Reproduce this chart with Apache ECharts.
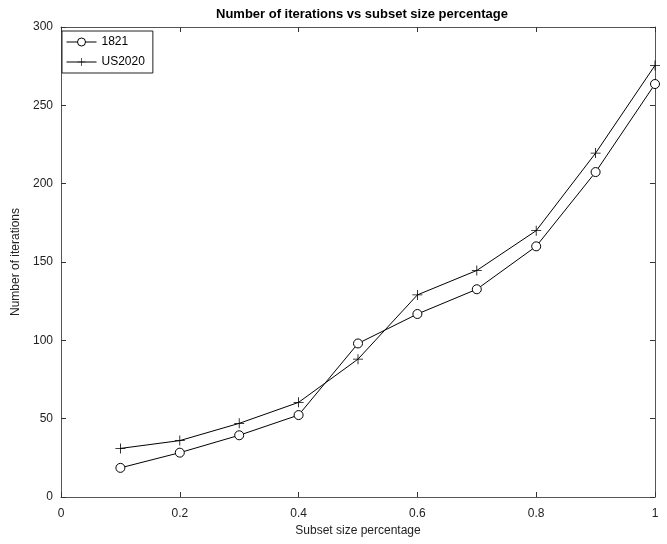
<!DOCTYPE html>
<html>
<head>
    <meta charset="utf-8">
    <title>Number of iterations vs subset size percentage</title>
    <script src="https://cdn.jsdelivr.net/npm/echarts@6/dist/echarts.min.js"></script>
    <style>
        body { margin: 0; padding: 0; background: #fff; }
        #chart { width: 667px; height: 544px; }
    </style>
</head>
<body>
    <div id="chart"></div>
    <script>
        // data
        const subsetSize = [0.1, 0.2, 0.3, 0.4, 0.5, 0.6, 0.7, 0.8, 0.9, 1.0];
        const iters1821 = [18.6, 28.3, 39.4, 52.3, 98, 116.8, 132.6, 160, 207.4, 263.6];
        const itersUS2020 = [31, 36, 47, 60.4, 88, 129, 144.6, 170, 219.5, 275.5];

        const plusPath = 'path://M4.6,0H5.4V4.6H10V5.4H5.4V10H4.6V5.4H0V4.6H4.6Z';
        const font = 'Liberation Sans, Arial, sans-serif';

        const chart = echarts.init(document.getElementById('chart'));

        // fresh objects for every axis
        const tick = () => ({ show: true, inside: true, length: 5, lineStyle: { color: '#333', width: 1 } });
        const axisLine = () => ({ show: true, onZero: false, lineStyle: { color: '#555', width: 1 } });

        chart.setOption({
            animation: false,
            backgroundColor: '#fff',
            title: {
                text: 'Number of iterations vs subset size percentage',
                left: 211,
                top: 3,
                textStyle: { fontFamily: font, fontSize: 13, fontWeight: 'bold', color: '#000' }
            },
            legend: {
                orient: 'vertical',
                left: 62,
                top: 31,
                padding: [5, 8, 5, 4],
                itemGap: 8,
                itemWidth: 30,
                itemHeight: 10,
                borderColor: '#222',
                borderWidth: 1,
                backgroundColor: '#fff',
                lineStyle: { width: 1 },
                itemStyle: { borderWidth: 1 },
                textStyle: { fontFamily: font, fontSize: 12, color: '#000' },
                data: ['1821', 'US2020']
            },
            grid: { left: 61, right: 12, top: 27, bottom: 47 },
            xAxis: [{
                type: 'value',
                min: 0, max: 1, interval: 0.2,
                name: 'Subset size percentage',
                nameLocation: 'middle',
                nameGap: 28,
                nameTextStyle: { fontFamily: font, fontSize: 12, color: '#222' },
                axisLine: axisLine(),
                axisTick: tick(),
                splitLine: { show: false },
                axisLabel: {
                    fontFamily: font, fontSize: 12, color: '#222', margin: 11,
                    formatter: v => String(Math.round(v * 10) / 10)
                }
            }, {
                type: 'value',
                position: 'top',
                min: 0, max: 1, interval: 0.2,
                axisLine: axisLine(),
                axisTick: tick(),
                axisLabel: { show: false },
                splitLine: { show: false }
            }],
            yAxis: [{
                type: 'value',
                min: 0, max: 300, interval: 50,
                name: 'Number of iterations',
                nameLocation: 'middle',
                nameGap: 30,
                nameTextStyle: { fontFamily: font, fontSize: 12, color: '#222' },
                axisLine: axisLine(),
                axisTick: tick(),
                splitLine: { show: false },
                axisLabel: { fontFamily: font, fontSize: 12, color: '#222', margin: 8 }
            }, {
                type: 'value',
                position: 'right',
                min: 0, max: 300, interval: 50,
                axisLine: axisLine(),
                axisTick: tick(),
                axisLabel: { show: false },
                splitLine: { show: false }
            }],
            series: [{
                name: '1821',
                type: 'line',
                data: subsetSize.map((x, i) => [x, iters1821[i]]),
                symbol: 'circle',
                symbolSize: 9,
                showAllSymbol: true,
                lineStyle: { color: '#000', width: 1 },
                itemStyle: { color: '#fff', borderColor: '#000', borderWidth: 1 },
                emphasis: { disabled: true },
                z: 3
            }, {
                name: 'US2020',
                type: 'line',
                data: subsetSize.map((x, i) => [x, itersUS2020[i]]),
                symbol: plusPath,
                symbolSize: 10,
                showAllSymbol: true,
                lineStyle: { color: '#000', width: 1 },
                itemStyle: { color: '#000', borderWidth: 0 },
                emphasis: { disabled: true },
                z: 3
            }]
        });
    </script>
</body>
</html>
